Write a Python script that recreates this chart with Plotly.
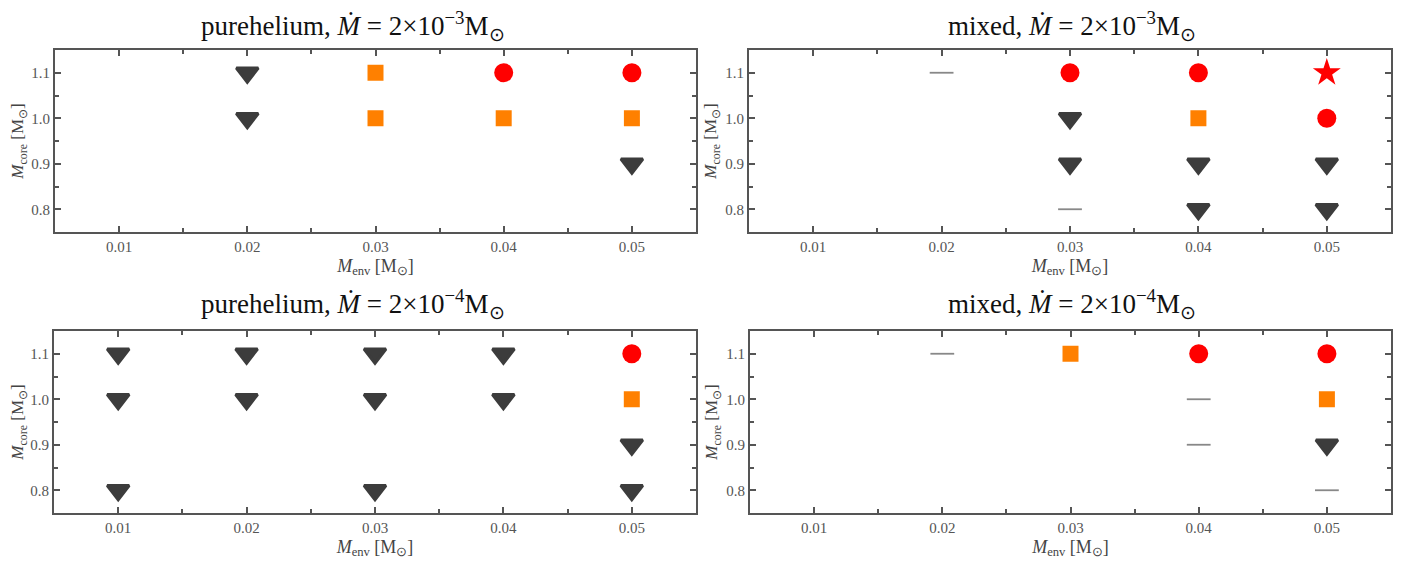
import plotly.graph_objects as go

# ---- data ----
env_ticks = [0.01, 0.02, 0.03, 0.04, 0.05]
env_labels = ["0.01", "0.02", "0.03", "0.04", "0.05"]
core_ticks = [0.8, 0.9, 1.0, 1.1]
core_labels = ["0.8", "0.9", "1.0", "1.1"]

titles = [
    "purehelium, <i>Ṁ</i> = 2×10<sup>−3</sup>M<sub>⊙</sub>",
    "mixed, <i>Ṁ</i> = 2×10<sup>−3</sup>M<sub>⊙</sub>",
    "purehelium, <i>Ṁ</i> = 2×10<sup>−4</sup>M<sub>⊙</sub>",
    "mixed, <i>Ṁ</i> = 2×10<sup>−4</sup>M<sub>⊙</sub>",
]

# panel 1: pure helium, 2e-3
p1_env = [0.02, 0.02, 0.03, 0.03, 0.04, 0.04, 0.05, 0.05, 0.05]
p1_core = [1.1, 1.0, 1.1, 1.0, 1.1, 1.0, 1.1, 1.0, 0.9]
p1_kind = ["tri", "tri", "sq", "sq", "circ", "sq", "circ", "sq", "tri"]

# panel 2: mixed, 2e-3
p2_env = [0.02, 0.03, 0.03, 0.03, 0.03, 0.04, 0.04, 0.04, 0.04, 0.05, 0.05, 0.05, 0.05]
p2_core = [1.1, 1.1, 1.0, 0.9, 0.8, 1.1, 1.0, 0.9, 0.8, 1.1, 1.0, 0.9, 0.8]
p2_kind = ["dash", "circ", "tri", "tri", "dash", "circ", "sq", "tri", "tri", "star", "circ", "tri", "tri"]

# panel 3: pure helium, 2e-4
p3_env = [0.01, 0.01, 0.01, 0.02, 0.02, 0.03, 0.03, 0.03, 0.04, 0.04, 0.05, 0.05, 0.05, 0.05]
p3_core = [1.1, 1.0, 0.8, 1.1, 1.0, 1.1, 1.0, 0.8, 1.1, 1.0, 1.1, 1.0, 0.9, 0.8]
p3_kind = ["tri", "tri", "tri", "tri", "tri", "tri", "tri", "tri", "tri", "tri", "circ", "sq", "tri", "tri"]

# panel 4: mixed, 2e-4
p4_env = [0.02, 0.03, 0.04, 0.04, 0.04, 0.05, 0.05, 0.05, 0.05]
p4_core = [1.1, 1.1, 1.1, 1.0, 0.9, 1.1, 1.0, 0.9, 0.8]
p4_kind = ["dash", "sq", "circ", "dash", "dash", "circ", "sq", "tri", "dash"]

panels = [(p1_env, p1_core, p1_kind), (p2_env, p2_core, p2_kind),
          (p3_env, p3_core, p3_kind), (p4_env, p4_core, p4_kind)]

# ---- styles ----
styles = {
    "tri": dict(symbol="triangle-down", size=19, color="#3c3c3c", line=dict(color="#3c3c3c", width=3)),
    "sq": dict(symbol="square", size=16, color="#ff8000", line=dict(width=0)),
    "circ": dict(symbol="circle", size=19, color="#ff0000", line=dict(width=0)),
    "star": dict(symbol="star", size=21, color="#ff0000", line=dict(width=0)),
    "dash": dict(symbol="line-ew", size=17, color="#777777", line=dict(color="#888888", width=1.8)),
}

W, H = 1412, 570
OFF = 8  # page body margin in the browser
# pixel boxes in the screenshot (left, right, top, bottom)
boxes = [(55, 696, 50, 232), (749, 1391, 50, 232), (54, 696, 331, 513), (750, 1391, 331, 513)]
title_pos = [(353, 26), (1072, 26), (353, 304), (1072, 304)]


def px(v):
    return (v - OFF) / W


def py(v):
    return 1 - (v - OFF) / H


fig = go.Figure()
FONT = "Liberation Serif, Times New Roman, serif"
layout = dict(
    width=W, height=H, margin=dict(l=0, r=0, t=0, b=0, autoexpand=False),
    plot_bgcolor="white", paper_bgcolor="white", showlegend=False,
    font=dict(family=FONT, color="#444"),
)
annotations = []
for i, ((env, core, kind), box) in enumerate(zip(panels, boxes)):
    xa = "x" if i == 0 else f"x{i+1}"
    ya = "y" if i == 0 else f"y{i+1}"
    for k in ["tri", "sq", "circ", "star", "dash"]:
        xs = [e for e, kk in zip(env, kind) if kk == k]
        ys = [c for c, kk in zip(core, kind) if kk == k]
        if not xs:
            continue
        fig.add_trace(go.Scatter(x=xs, y=ys, mode="markers", marker=styles[k],
                                 xaxis=xa, yaxis=ya, hoverinfo="x+y"))
    l, r, t, b = box
    axcommon = dict(showline=True, linewidth=2, linecolor="#555", mirror="ticks",
                    ticks="inside", ticklen=6, tickwidth=1.5, tickcolor="#555",
                    showgrid=False, zeroline=False, automargin=False,
                    tickfont=dict(family=FONT, size=15, color="#555"))
    layout["xaxis" if i == 0 else f"xaxis{i+1}"] = dict(
        axcommon, domain=[px(l), px(r)], anchor=ya, range=[0.005, 0.055],
        tickvals=env_ticks, ticktext=env_labels,
        minor=dict(ticks="inside", ticklen=4, tickcolor="#555", tickvals=[0.015, 0.025, 0.035, 0.045]),
        title=dict(text="<i>M</i><sub>env</sub> [M<sub>⊙</sub>]", font=dict(family=FONT, size=18, color="#444"), standoff=5),
    )
    layout["yaxis" if i == 0 else f"yaxis{i+1}"] = dict(
        axcommon, domain=[py(b), py(t)], anchor=xa, range=[0.75, 1.15],
        tickvals=core_ticks, ticktext=core_labels,
        minor=dict(ticks="inside", ticklen=4, tickcolor="#555", tickvals=[0.85, 0.95, 1.05]),
        title=dict(text="<i>M</i><sub>core</sub> [M<sub>⊙</sub>]", font=dict(family=FONT, size=17, color="#444"), standoff=4),
    )
    tx, ty = title_pos[i]
    annotations.append(dict(text=titles[i], x=px(tx), y=py(ty), xref="paper", yref="paper",
                            showarrow=False, xanchor="center", yanchor="middle",
                            font=dict(family=FONT, size=27, color="#111")))
layout["annotations"] = annotations
fig.update_layout(**layout)
fig.write_html("out.html")
